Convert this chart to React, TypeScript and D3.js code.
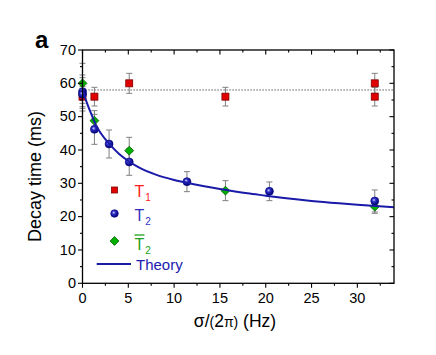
import React, { useRef, useEffect } from "react";
import * as d3 from "d3";

// T1 (red squares)
const t1X = [0, 1.3, 5.1, 15.6, 31.9, 31.9];
const t1Y = [56, 56, 60, 56, 60, 56];
const t1Err = [3, 2.8, 3, 2.8, 3, 2.8];

// T2 (blue spheres)
const t2X = [0, 0, 1.3, 2.9, 5.1, 11.4, 20.4, 31.9];
const t2Y = [57.5, 56.7, 46.2, 41.8, 36.4, 30.5, 27.6, 24.7];
const t2Err = [5, 5, 4.5, 4.2, 4, 3, 2.8, 3.3];

// T2 bar (green diamonds)
const t2bX = [0, 1.3, 5.1, 15.6, 31.9];
const t2bY = [60, 48.8, 39.8, 27.8, 23];
const t2bErr = [6, 3, 4, 3, 2];

// theory curve
const theoryX = [0, 0.5, 1, 1.5, 2, 3, 4, 5, 6, 8, 10, 12, 15, 18, 20, 22, 25, 28, 30, 32, 34];
const theoryY = [58, 54, 50.5, 47.3, 45, 41.6, 38.8, 36.7, 35, 32.6, 31, 29.8, 28.3, 27, 26.3, 25.6, 24.7, 24, 23.6, 23.2, 22.8];

const t1Line = 58;

const xMajor = [0, 5, 10, 15, 20, 25, 30];
const xMinor = [2.5, 7.5, 12.5, 17.5, 22.5, 27.5, 32.5];
const yMajor = [0, 10, 20, 30, 40, 50, 60, 70];
const yMinor = [5, 15, 25, 35, 45, 55, 65];

const RED = "#e00000";
const BLUE = "#1a1aa8";
const GREEN = "#00b000";
const FONT = "Liberation Sans, Arial, sans-serif";

function DecayChart() {
  const svgRef = useRef(null);

  useEffect(() => {
    const svg = d3.select(svgRef.current);
    svg.selectAll("*").remove();

    const left = 82.5, right = 394, top = 50, bottom = 283.3;
    const x = d3.scaleLinear().domain([0, 34]).range([left, right]);
    const y = d3.scaleLinear().domain([0, 70]).range([bottom, top]);

    // sphere gradient for the blue points
    const defs = svg.append("defs");
    const grad = defs
      .append("radialGradient")
      .attr("id", "ball")
      .attr("cx", "40%")
      .attr("cy", "38%")
      .attr("r", "60%");
    grad.append("stop").attr("offset", "0%").attr("stop-color", "#d8d8ff");
    grad.append("stop").attr("offset", "35%").attr("stop-color", "#3030c8");
    grad.append("stop").attr("offset", "100%").attr("stop-color", "#000070");

    // dotted T1 average
    svg
      .append("line")
      .attr("x1", x(0))
      .attr("x2", x(34))
      .attr("y1", y(t1Line))
      .attr("y2", y(t1Line))
      .attr("stroke", "#333")
      .attr("stroke-width", 1)
      .attr("stroke-dasharray", "1.2,1.8");

    // error bars
    const errBars = (xs, ys, es) => {
      const g = svg.append("g").attr("stroke", "#808080").attr("stroke-width", 1);
      xs.forEach((xv, i) => {
        const cx = x(xv);
        const y1 = y(ys[i] + es[i]);
        const y2 = y(ys[i] - es[i]);
        g.append("line").attr("x1", cx).attr("x2", cx).attr("y1", y1).attr("y2", y2);
        g.append("line").attr("x1", cx - 3).attr("x2", cx + 3).attr("y1", y1).attr("y2", y1);
        g.append("line").attr("x1", cx - 3).attr("x2", cx + 3).attr("y1", y2).attr("y2", y2);
      });
    };
    errBars(t1X, t1Y, t1Err);
    errBars(t2X, t2Y, t2Err);
    errBars(t2bX, t2bY, t2bErr);

    // red squares
    svg
      .selectAll(".t1")
      .data(t1X)
      .join("rect")
      .attr("class", "t1")
      .attr("x", (d) => x(d) - 3.5)
      .attr("y", (d, i) => y(t1Y[i]) - 3.5)
      .attr("width", 7)
      .attr("height", 7)
      .attr("fill", RED)
      .attr("stroke", "#800000")
      .attr("stroke-width", 0.8);

    // green diamonds
    const diamond = d3.symbol().type(d3.symbolDiamond2).size(50);
    svg
      .selectAll(".t2b")
      .data(t2bX)
      .join("path")
      .attr("class", "t2b")
      .attr("d", diamond)
      .attr("transform", (d, i) => `translate(${x(d)},${y(t2bY[i])})`)
      .attr("fill", GREEN)
      .attr("stroke", "#006000")
      .attr("stroke-width", 0.8);

    // blue spheres
    svg
      .selectAll(".t2")
      .data(t2X)
      .join("circle")
      .attr("class", "t2")
      .attr("cx", (d) => x(d))
      .attr("cy", (d, i) => y(t2Y[i]))
      .attr("r", 4)
      .attr("fill", "url(#ball)")
      .attr("stroke", "#000080")
      .attr("stroke-width", 0.6);

    // theory curve
    const line = d3
      .line()
      .x((d) => x(d[0]))
      .y((d) => y(d[1]))
      .curve(d3.curveMonotoneX);
    svg
      .append("path")
      .datum(theoryX.map((v, i) => [v, theoryY[i]]))
      .attr("d", line)
      .attr("fill", "none")
      .attr("stroke", BLUE)
      .attr("stroke-width", 2);

    // frame
    svg
      .append("rect")
      .attr("x", left)
      .attr("y", top)
      .attr("width", right - left)
      .attr("height", bottom - top)
      .attr("fill", "none")
      .attr("stroke", "#000")
      .attr("stroke-width", 1.3);

    // ticks
    const ticks = svg.append("g").attr("stroke", "#000").attr("stroke-width", 1.1);
    const tickX = (vals, len) =>
      vals.forEach((v) => {
        ticks.append("line").attr("x1", x(v)).attr("x2", x(v)).attr("y1", bottom).attr("y2", bottom + len);
        ticks.append("line").attr("x1", x(v)).attr("x2", x(v)).attr("y1", top).attr("y2", top + len);
      });
    const tickY = (vals, len) =>
      vals.forEach((v) => {
        ticks.append("line").attr("x1", left - len).attr("x2", left).attr("y1", y(v)).attr("y2", y(v));
        ticks.append("line").attr("x1", right - len).attr("x2", right).attr("y1", y(v)).attr("y2", y(v));
      });
    tickX(xMajor, 4.5);
    tickX(xMinor, 2.5);
    tickY(yMajor, 4.5);
    tickY(yMinor, 2.5);

    // tick labels
    svg
      .selectAll(".xl")
      .data(xMajor)
      .join("text")
      .attr("class", "xl")
      .attr("x", (d) => x(d))
      .attr("y", 303.3)
      .attr("text-anchor", "middle")
      .attr("font-family", FONT)
      .attr("font-size", 14.5)
      .text((d) => d);
    svg
      .selectAll(".yl")
      .data(yMajor)
      .join("text")
      .attr("class", "yl")
      .attr("x", 76)
      .attr("y", (d) => y(d) + 4.8)
      .attr("text-anchor", "end")
      .attr("font-family", FONT)
      .attr("font-size", 14.5)
      .text((d) => d);

    // axis titles
    svg
      .append("text")
      .attr("transform", "translate(40.7,176.5) rotate(-90)")
      .attr("text-anchor", "middle")
      .attr("font-family", FONT)
      .attr("font-size", 18)
      .text("Decay time (ms)");

    const xt = svg
      .append("text")
      .attr("x", 235)
      .attr("y", 326.7)
      .attr("text-anchor", "middle")
      .attr("font-family", FONT)
      .attr("font-size", 17.5);
    xt.append("tspan").text("σ/");
    xt.append("tspan").attr("font-size", 14).text("(");
    xt.append("tspan").text("2");
    xt.append("tspan").attr("font-size", 14).text("π)");
    xt.append("tspan").text(" (Hz)");

    svg
      .append("text")
      .attr("x", 35)
      .attr("y", 48)
      .attr("font-family", FONT)
      .attr("font-weight", "bold")
      .attr("font-size", 24)
      .text("a");

    // legend
    const lg = svg.append("g").attr("font-family", FONT);
    lg.append("rect")
      .attr("x", 111.5)
      .attr("y", 187)
      .attr("width", 6)
      .attr("height", 6)
      .attr("fill", RED)
      .attr("stroke", "#800000")
      .attr("stroke-width", 0.8);
    lg.append("circle")
      .attr("cx", 114.5)
      .attr("cy", 213.5)
      .attr("r", 3.8)
      .attr("fill", "url(#ball)")
      .attr("stroke", "#000080")
      .attr("stroke-width", 0.6);
    lg.append("path")
      .attr("d", diamond)
      .attr("transform", "translate(114.5,241)")
      .attr("fill", GREEN)
      .attr("stroke", "#006000")
      .attr("stroke-width", 0.8);
    lg.append("line")
      .attr("x1", 96.7)
      .attr("x2", 131)
      .attr("y1", 264)
      .attr("y2", 264)
      .attr("stroke", BLUE)
      .attr("stroke-width", 2);

    const label = (yb, color, sub) => {
      const t = lg.append("text").attr("x", 134.5).attr("y", yb).attr("fill", color).attr("font-size", 16);
      t.append("tspan").text("T");
      t.append("tspan").attr("font-size", 10).attr("dx", 1).attr("dy", 4).text(sub);
    };
    label(196.7, "#ff2020", "1");
    label(220.5, "#3030c0", "2");
    label(249.5, "#20a020", "2");
    lg.append("line")
      .attr("x1", 134.5)
      .attr("x2", 144.5)
      .attr("y1", 235)
      .attr("y2", 235)
      .attr("stroke", "#20a020")
      .attr("stroke-width", 1.3);
    lg.append("text")
      .attr("x", 136)
      .attr("y", 270)
      .attr("fill", "#2020b0")
      .attr("font-size", 15)
      .text("Theory");
  }, []);

  return (
    <svg
      ref={svgRef}
      width={436}
      height={355}
      style={{ position: "absolute", left: 0, top: 0, background: "#fff" }}
    ></svg>
  );
}

export default function App() {
  return <DecayChart />;
}
